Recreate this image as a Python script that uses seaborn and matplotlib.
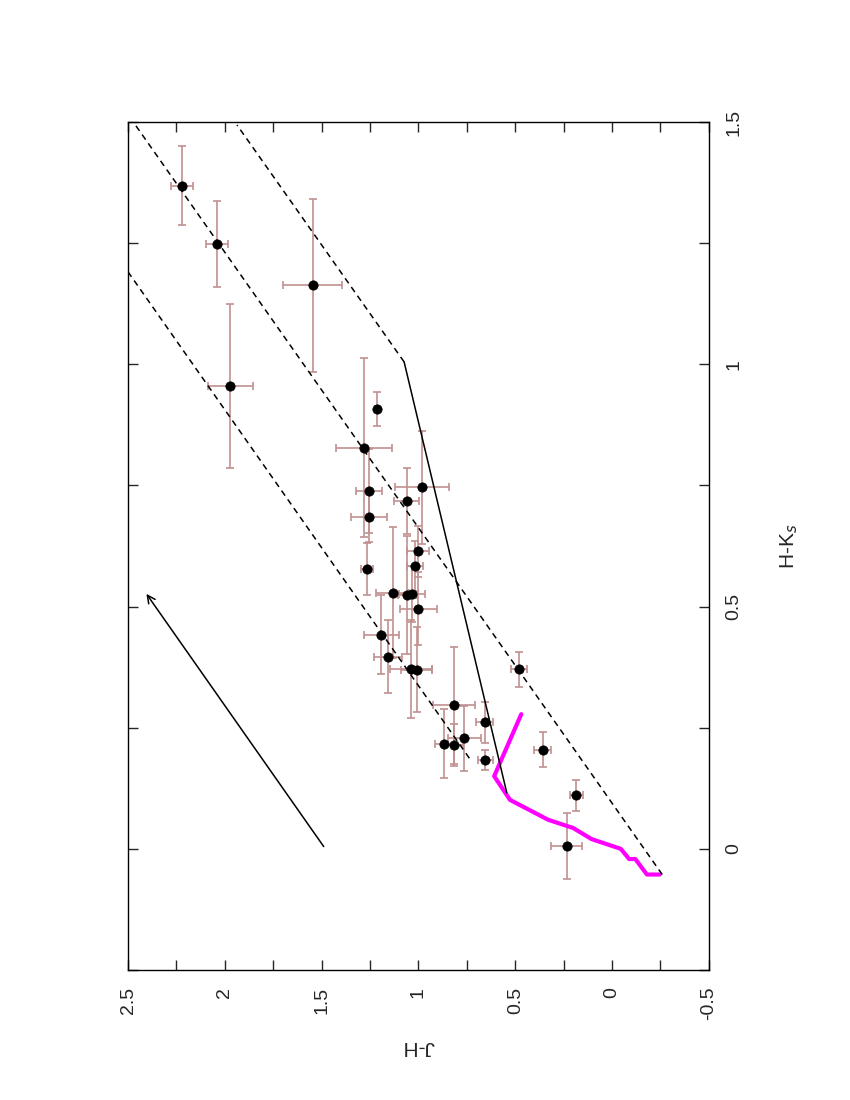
import numpy as np
import pandas as pd
import matplotlib
matplotlib.use("Agg")
import matplotlib.pyplot as plt
import seaborn as sns

sns.set_theme(style="ticks")
plt.rcParams['font.family'] = ['Liberation Sans', 'DejaVu Sans']

# data: J-H, H-K_s and errors
jh = [2.220, 2.040, 1.545, 1.972, 1.215, 1.282, 1.256, 1.256, 1.061, 0.982, 1.267, 1.003, 1.018,
      1.134, 1.057, 1.033, 1.001, 1.192, 1.157, 1.039, 1.009, 0.480, 0.817, 0.658, 0.763, 0.866,
      0.819, 0.654, 0.358, 0.184, 0.234]
hk = [1.369, 1.249, 1.163, 0.955, 0.908, 0.828, 0.739, 0.685, 0.718, 0.746, 0.577, 0.614, 0.584,
      0.529, 0.524, 0.526, 0.496, 0.442, 0.397, 0.372, 0.370, 0.371, 0.296, 0.261, 0.228, 0.217,
      0.214, 0.184, 0.205, 0.111, 0.006]
jh_err = [0.056, 0.058, 0.152, 0.116, 0.010, 0.143, 0.066, 0.094, 0.066, 0.139, 0.032, 0.058, 0.043,
          0.086, 0.047, 0.066, 0.096, 0.090, 0.073, 0.109, 0.081, 0.043, 0.107, 0.043, 0.084, 0.047,
          0.047, 0.039, 0.043, 0.034, 0.081]
hk_err = [0.081, 0.089, 0.178, 0.169, 0.035, 0.185, 0.087, 0.052, 0.069, 0.116, 0.054, 0.052, 0.052,
          0.135, 0.121, 0.058, 0.075, 0.081, 0.075, 0.101, 0.087, 0.036, 0.120, 0.043, 0.067, 0.071,
          0.044, 0.021, 0.037, 0.032, 0.069]

# main sequence / giant locus (magenta)
ms_jh = [0.469, 0.609, 0.527, 0.330, 0.201, 0.105, -0.045, -0.088, -0.120, -0.180, -0.246]
ms_hk = [0.278, 0.150, 0.101, 0.060, 0.043, 0.020, 0.0, -0.021, -0.021, -0.053, -0.053]

# CTTS locus (solid)
ctts_jh = [1.074, 0.544]
ctts_hk = [1.005, 0.116]
# reddening bands (dashed)
d1_jh = [1.074, 1.937]; d1_hk = [1.005, 1.494]
d2_jh = [-0.259, 2.462]; d2_hk = [-0.053, 1.494]
d3_jh = [0.737, 2.500]; d3_hk = [0.187, 1.191]
# reddening arrow
arr_jh = [1.481, 2.413]; arr_hk = [0.0, 0.531]

fig = plt.figure(figsize=(8.5, 11), dpi=100)
ax = fig.add_axes([0.1506, 0.1182, 0.834 - 0.1506, 0.889 - 0.1182])

ax.errorbar(jh, hk, xerr=jh_err, yerr=hk_err, fmt='none', ecolor='#c09090',
            elinewidth=1.2, capsize=3, capthick=1.2, zorder=2)
df = pd.DataFrame({'jh': jh, 'hk': hk})
sns.scatterplot(data=df, x='jh', y='hk', color='black', s=45, edgecolor='black', ax=ax, zorder=3)

sns.lineplot(x=ms_jh, y=ms_hk, sort=False, estimator=None, color='#ff00ff', lw=3, ax=ax)
sns.lineplot(x=ctts_jh, y=ctts_hk, sort=False, estimator=None, color='black', lw=1.1, ax=ax)
for xj, yh in [(d1_jh, d1_hk), (d2_jh, d2_hk), (d3_jh, d3_hk)]:
    sns.lineplot(x=xj, y=yh, sort=False, estimator=None, color='black', lw=1.1,
                 linestyle=(0, (4, 3)), ax=ax)
ax.annotate('', xy=(arr_jh[1], arr_hk[1]), xytext=(arr_jh[0], arr_hk[0]),
            arrowprops=dict(arrowstyle='->', color='black', lw=1.1, mutation_scale=14))

ax.set_xlim(2.5, -0.5)
ax.set_ylim(-0.25, 1.5)
ax.set_xticks(np.arange(-0.5, 2.51, 0.25))
ax.set_xticklabels(['-0.5', '', '0', '', '0.5', '', '1', '', '1.5', '', '2', '', '2.5'],
                   rotation=90, fontsize=14)
ax.set_yticks(np.arange(-0.25, 1.51, 0.25))
ax.set_yticklabels(['', '0', '', '0.5', '', '1', '', '1.5'], rotation=90, va='center', fontsize=14)
ax.yaxis.tick_right()
ax.tick_params(axis='both', direction='in', length=7, width=1, top=True, bottom=True,
               left=True, right=True, labelleft=False, labelright=True, pad=12)
for s in ax.spines.values():
    s.set_visible(True); s.set_color('black'); s.set_linewidth(1)
ax.set_xlabel('J-H', fontsize=15, labelpad=12)
ax.xaxis.label.set_rotation(180)
ax.set_ylabel('H-K$_s$', rotation=90, fontsize=15, labelpad=26)
ax.yaxis.set_label_position('right')
ax.grid(False)
fig.savefig('out.png', dpi=100)
